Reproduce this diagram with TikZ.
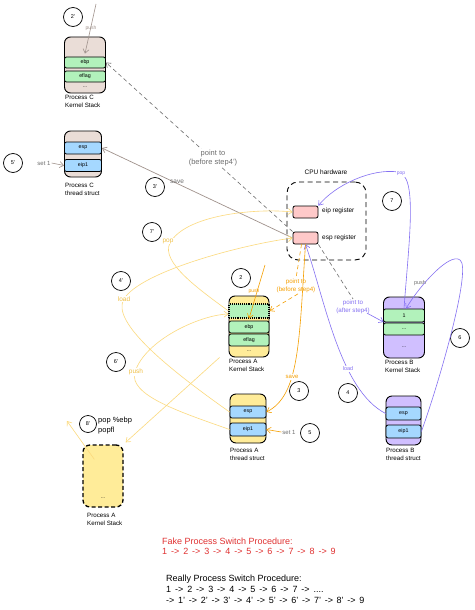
\documentclass[tikz,border=0pt]{standalone}
\usepackage{fontspec}
\setmainfont{Liberation Sans}
\usetikzlibrary{arrows.meta,calc}
\definecolor{ctan}{RGB}{234,221,215}
\definecolor{rgreen}{RGB}{178,242,187}
\definecolor{rblue}{RGB}{165,216,255}
\definecolor{ryellow}{RGB}{255,236,153}
\definecolor{rpurple}{RGB}{208,191,255}
\definecolor{rpink}{RGB}{255,201,201}
\definecolor{cgray}{RGB}{160,146,140}
\definecolor{dgray}{RGB}{110,110,110}
\definecolor{corange}{RGB}{245,159,0}
\definecolor{cyellow}{RGB}{252,218,125}
\definecolor{tyellow}{RGB}{240,192,70}
\definecolor{cpurple}{RGB}{132,112,242}
\definecolor{cred}{RGB}{224,49,49}
\tikzset{
  stackbox/.style={draw=black, line width=0.9pt, rounded corners=6pt, inner sep=0pt},
  rowbox/.style={draw=black, line width=0.8pt, rounded corners=2pt, inner sep=0pt, font=\fontsize{5.3}{6}\selectfont},
  lbl/.style={anchor=north west, align=left, inner sep=0pt, font=\fontsize{6.2}{8}\selectfont},
  stepcirc/.style={draw=black, circle, line width=0.7pt, minimum size=19pt, inner sep=0pt, font=\fontsize{5.5}{6}\selectfont},
  arr/.style={-{Straight Barb[length=4pt,width=6pt]}, line width=0.6pt},
  albl/.style={inner sep=1pt, font=\fontsize{6.5}{7.5}\selectfont},
  reg/.style={draw=black, line width=0.8pt, rounded corners=2pt, fill=rpink, minimum width=25pt, minimum height=12pt, inner sep=0pt},
  dots/.style={font=\fontsize{5}{5}\selectfont, inner sep=0pt},
  proc/.style={anchor=west, inner sep=0pt, font=\fontsize{9}{10}\selectfont}
}
\begin{document}
\begin{tikzpicture}[x=1pt,y=-1pt]
\useasboundingbox[fill=white] (0,0) rectangle (474,610);

% ---------- Process C kernel stack
\node[stackbox, fill=ctan, minimum width=41pt, minimum height=56pt] (cks) at (85,65) {};
\node[rowbox, fill=rgreen, minimum width=41pt, minimum height=11pt] (cks1) at (85,62.5) {ebp};
\node[rowbox, fill=rgreen, minimum width=41pt, minimum height=11pt] (cks2) at (85,76.5) {eflag};
\node[dots] (cks3) at (85,87.5) {...};
\node[lbl] (cksl) at (65,95) {Process C\\Kernel Stack};

% ---------- Process C thread struct
\node[stackbox, fill=ctan, minimum width=37pt, minimum height=46pt] (cts) at (83,154) {};
\node[rowbox, fill=rblue, minimum width=37pt, minimum height=12pt] (cts1) at (83,148) {esp};
\node[rowbox, fill=rblue, minimum width=37pt, minimum height=12pt] (cts2) at (83,165.5) {eip1};
\node[lbl] (ctsl) at (65,183) {Process C\\thread struct};

% ---------- CPU
\node[draw=black, line width=0.9pt, rounded corners=11pt, dash pattern=on 5pt off 3.5pt, minimum width=79pt, minimum height=78pt] (cpu) at (326.5,221) {};
\node[albl] (cpul) at (326,172) {CPU hardware};
\node[reg] (eipr) at (305.5,212) {};
\node[reg] (espr) at (305.5,238) {};
\node[albl, anchor=west] (eiprl) at (321,211) {eip register};
\node[albl, anchor=west] (esprl) at (321,238) {esp register};

% ---------- Process A kernel stack
\node[stackbox, fill=ryellow, minimum width=40pt, minimum height=61pt] (aks) at (249,326.5) {};
\node[draw=black, fill=rgreen, line width=1.1pt, densely dotted, minimum width=40pt, minimum height=14pt, inner sep=0pt] (aks0) at (249,311) {};
\node[rowbox, fill=rgreen, minimum width=40pt, minimum height=12pt] (aks1) at (249,327) {ebp};
\node[rowbox, fill=rgreen, minimum width=40pt, minimum height=12pt] (aks2) at (249,340) {eflag};
\node[dots] (aks3) at (249,351) {...};
\node[lbl] (aksl) at (229,359) {Process A\\Kernel Stack};

% ---------- Process A thread struct
\node[stackbox, fill=ryellow, minimum width=36pt, minimum height=49pt] (ats) at (248,418.5) {};
\node[rowbox, fill=rblue, minimum width=36pt, minimum height=12pt] (ats1) at (248,412) {esp};
\node[rowbox, fill=rblue, minimum width=36pt, minimum height=13pt] (ats2) at (248,429.5) {eip1};
\node[lbl] (atsl) at (230,448) {Process A\\thread struct};

% ---------- Process B kernel stack
\node[stackbox, fill=rpurple, minimum width=41pt, minimum height=61pt] (bks) at (404,327.5) {};
\node[rowbox, fill=rgreen, minimum width=41pt, minimum height=13pt] (bks1) at (404,315.5) {1};
\node[rowbox, fill=rgreen, minimum width=41pt, minimum height=12pt] (bks2) at (404,329) {...};
\node[dots] (bks3) at (404,347) {...};
\node[lbl] (bksl) at (385,360) {Process B\\Kernel Stack};

% ---------- Process B thread struct
\node[stackbox, fill=rpurple, minimum width=35pt, minimum height=49pt] (bts) at (403.5,420.5) {};
\node[rowbox, fill=rblue, minimum width=35pt, minimum height=13pt] (bts1) at (403.5,413.5) {esp};
\node[rowbox, fill=rblue, minimum width=35pt, minimum height=13pt] (bts2) at (403.5,431.5) {eip1};
\node[lbl] (btsl) at (386,448) {Process B\\thread struct};

% ---------- dashed Process A kernel stack
\node[draw=black, fill=ryellow, line width=1.3pt, rounded corners=7pt, dash pattern=on 4pt off 2.5pt, minimum width=40pt, minimum height=62pt, inner sep=0pt] (dks) at (103,476) {};
\node[dots] (dks1) at (103,498) {...};
\node[lbl] (dksl) at (87,513) {Process A\\Kernel Stack};

% ---------- step circles
\node[stepcirc] (s2p) at (73,17) {2'};
\node[stepcirc] (s5p) at (13,163) {5'};
\node[stepcirc] (s3p) at (155,187) {3'};
\node[stepcirc] (s7p) at (152,232) {7'};
\node[stepcirc] (s4p) at (121,281) {4'};
\node[stepcirc] (s6p) at (116,362) {6'};
\node[stepcirc, minimum size=17pt] (s8p) at (88,424) {8'};
\node[stepcirc] (s2) at (241,278) {2};
\node[stepcirc] (s3) at (299,391) {3};
\node[stepcirc] (s5) at (310,433) {5};
\node[stepcirc] (s4) at (348,393) {4};
\node[stepcirc] (s6) at (460,338) {6};
\node[stepcirc] (s7) at (392,201) {7};

% ---------- Process C arrows (gray)
\coordinate (c2pstart) at (96,4);
\draw[arr, cgray] (c2pstart) -- ($(cks1.north)+(0,-3)$);
\node[albl, text=cgray, font=\fontsize{5}{5}\selectfont] (c2pl) at (91,28) {push};
\node[albl, text=dgray, font=\fontsize{6}{7}\selectfont] (set1c) at (44,163) {set 1};
\draw[arr, cgray] (set1c.east) -- (cts2.west);
\draw[arr, cgray, line width=0.7pt] (espr.west) -- (cts1.east);
\node[albl, text=dgray] (savec) at (177,182) {save};
\draw[arr, dgray, dash pattern=on 4pt off 3pt] (espr.north west) -- (cks1.east);
\node[albl, text=dgray, fill=white, align=center, font=\fontsize{7.5}{9.5}\selectfont] (ptc) at (213,158) {point to\\(before step4')};

% ---------- Process B arrows (purple)
\draw[arr, cpurple] (bks1.north) .. controls (409,240) and (418,175) .. (398,172) .. controls (372,168) and (335,185) .. (eipr.north east);
\node[albl, text=cpurple, fill=white, font=\fontsize{5}{5}\selectfont] (popb) at (401,174) {pop};
\draw[arr, cpurple] (bts2.east) .. controls (440,380) and (472,268) .. (460,260) .. controls (450,252) and (420,285) .. ($(bks1.north)+(2,0)$);
\node[albl, text=dgray, font=\fontsize{5.5}{6}\selectfont] (pushb) at (420,283) {push};
\draw[arr, cpurple] (bts1.west) .. controls (340,390) and (325,300) .. (espr.south);
\node[albl, text=cpurple, fill=white, font=\fontsize{5.5}{6}\selectfont] (loadb) at (348,369) {load};
\node[albl, text=cpurple, align=center, font=\fontsize{6.2}{8}\selectfont] (ptb) at (353,307) {point to\\(after step4)};
\draw[dgray, line width=0.6pt, dash pattern=on 4pt off 3pt] (espr.south east) -- (ptb.north);
\coordinate (ptbend) at (383.5,322);
\draw[arr, cpurple] ($(ptb.south east)+(-4,-2)$) -- (ptbend);

% ---------- Process A arrows (orange)
\coordinate (apstart) at (265,265);
\draw[arr, corange] (apstart) -- (aks0.south);
\node[albl, text=corange, font=\fontsize{5}{5}\selectfont] (pusha) at (254,291) {push};
\node[albl, text=corange, align=center, font=\fontsize{6.2}{7.5}\selectfont] (pta) at (296,286) {point to\\(before step4)};
\draw[corange, line width=0.6pt, dash pattern=on 4pt off 3pt] ($(espr.south)+(-4,0)$) -- (pta.north);
\draw[arr, corange, dash pattern=on 4pt off 3pt] ($(pta.south)+(2,0)$) -- (aks0.east);
\draw[arr, corange] ($(espr.south)+(0,0)$) .. controls (299,340) and (300,395) .. (ats1.east);
\node[albl, text=corange, fill=white, font=\fontsize{6}{6.5}\selectfont] (savea) at (292,377) {save};
\node[albl, text=dgray, font=\fontsize{6}{7}\selectfont] (set1a) at (289,432) {set 1};
\draw[arr, corange] (set1a.west) -- (ats2.east);

% ---------- yellow arrows
\draw[arr, cyellow] (aks0.west) .. controls (200,290) and (160,262) .. (170,243) .. controls (185,215) and (255,208) .. (eipr.west);
\node[albl, text=tyellow, fill=white] (popy) at (168,241) {pop};
\draw[arr, cyellow] (ats1.west) .. controls (170,370) and (110,322) .. (124,299) .. controls (140,272) and (240,245) .. (espr.west);
\node[albl, text=tyellow, fill=white] (loady) at (124,299) {load};
\draw[arr, cyellow] (ats2.west) .. controls (180,412) and (128,395) .. (135,372) .. controls (145,340) and (200,315) .. ($(aks0.west)+(0,3)$);
\node[albl, text=tyellow, fill=white] (pushy) at (136,372) {push};
\draw[arr, cyellow] ($(aks.south west)+(-9,0)$) -- ($(dks.north east)+(2,-2)$);
\coordinate (p8end) at (67,421);
\draw[arr, cyellow] ($(dks.north west)+(12,15)$) -- (p8end);
\node[albl, anchor=north west, align=left, font=\fontsize{7.5}{10}\selectfont] (p8t) at (97,416) {pop \%ebp\\popfl};

% ---------- procedure texts
\node[proc, text=cred] (fk1) at (162,541) {Fake Process Switch Procedure:};
\node[proc, text=cred] (fk2) at (162,551.5) {\spaceskip=3.9pt plus 1pt 1 -> 2 -> 3 -> 4 -> 5 -> 6 -> 7 -> 8 -> 9};
\node[proc] (rl1) at (166,579) {Really Process Switch Procedure:};
\node[proc] (rl2) at (166,589.5) {\spaceskip=3.9pt plus 1pt 1 -> 2 -> 3 -> 4 -> 5 -> 6 -> 7 -> ....};
\node[proc] (rl3) at (166,600) {\spaceskip=3.7pt plus 1pt -> 1' -> 2' -> 3' -> 4' -> 5' -> 6' -> 7' -> 8' -> 9};
\end{tikzpicture}
\end{document}
